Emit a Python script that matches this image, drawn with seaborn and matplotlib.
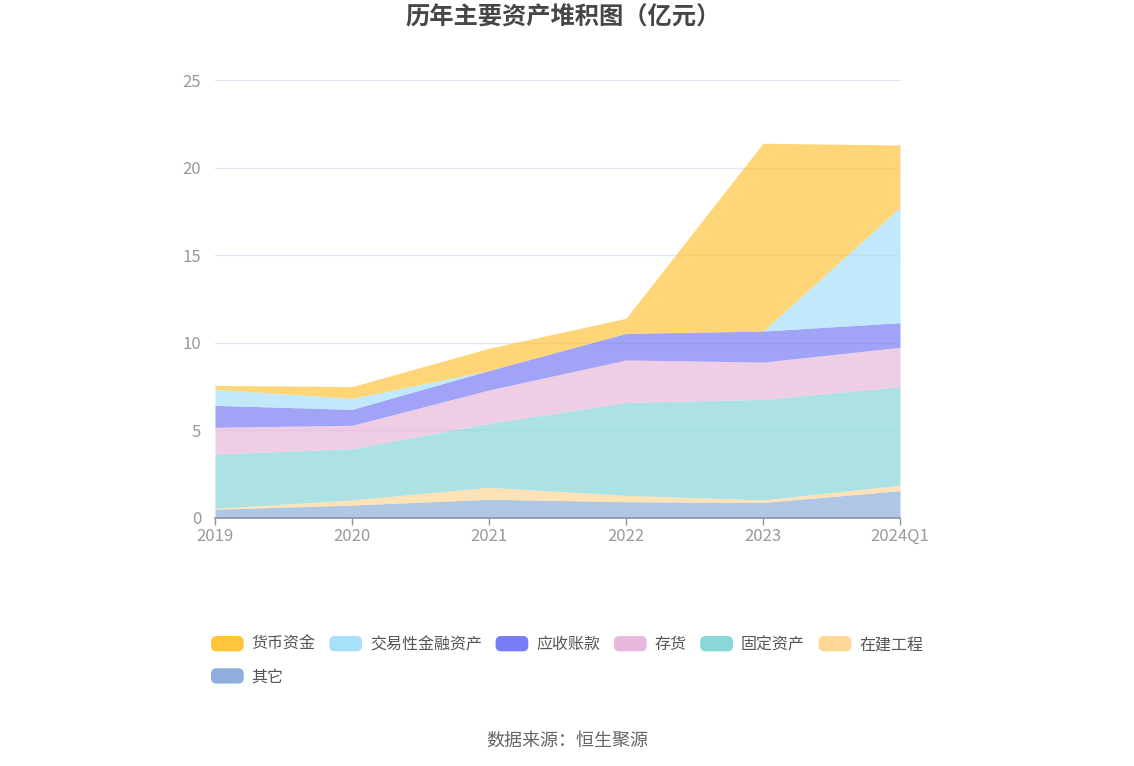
import matplotlib
matplotlib.use("Agg")
import matplotlib.pyplot as plt
from matplotlib.patches import FancyBboxPatch, Patch
from matplotlib.legend_handler import HandlerPatch
import seaborn as sns
import numpy as np

# ---- data (亿元) ----
periods = ["2019", "2020", "2021", "2022", "2023", "2024Q1"]
other = [0.50, 0.74, 1.07, 0.93, 0.89, 1.56]            # 其它
construction = [0.05, 0.29, 0.68, 0.36, 0.14, 0.31]     # 在建工程
fixed_assets = [3.10, 2.93, 3.65, 5.31, 5.74, 5.63]     # 固定资产
inventory = [1.53, 1.33, 1.91, 2.42, 2.13, 2.24]        # 存货
receivables = [1.25, 0.91, 1.11, 1.52, 1.77, 1.41]      # 应收账款
trading_assets = [0.91, 0.63, 0.0, 0.0, 0.0, 6.58]      # 交易性金融资产
cash = [0.23, 0.67, 1.27, 0.86, 10.72, 3.56]            # 货币资金

series_names = ["其它", "在建工程", "固定资产", "存货", "应收账款", "交易性金融资产", "货币资金"]
series_vals = [other, construction, fixed_assets, inventory, receivables, trading_assets, cash]
series_colors = ["#8FAEDB", "#FFD797", "#89D7D9", "#E8B9DA", "#7A7CF5", "#A8E0FA", "#FFC53D"]
y_ticks = [0, 5, 10, 15, 20, 25]

sns.set_theme(style="white")
plt.rcParams["font.family"] = ["Noto Sans CJK SC", "DejaVu Sans"]

fig = plt.figure(figsize=(11.34, 7.66), dpi=100)
ax = fig.add_axes([215 / 1134, 1 - 518 / 766, (900 - 215) / 1134, (518 - 80) / 766])

x = np.arange(len(periods))
ax.stackplot(x, *series_vals, colors=series_colors, alpha=0.7, linewidth=0)

ax.set_xlim(0, len(periods) - 1)
ax.set_ylim(0, 25)
ax.set_yticks(y_ticks)
ax.set_yticklabels([str(t) for t in y_ticks])
ax.set_xticks(x)
ax.set_xticklabels(periods)
ax.grid(axis="y", color="#E0E6F1", linewidth=1)
ax.set_axisbelow(True)
for s in ["top", "right", "left"]:
    ax.spines[s].set_visible(False)
ax.spines["bottom"].set_color("#8C93A6")
ax.spines["bottom"].set_linewidth(1.2)
ax.tick_params(axis="x", colors="#999999", labelsize=12, length=5, width=1, direction="out", pad=2)
ax.tick_params(axis="x", which="both", color="#8C93A6")
ax.tick_params(axis="y", colors="#999999", labelsize=12, length=0, pad=10)
ax.xaxis.set_ticks_position("bottom")

fig.text(563 / 1134, 1 - 18 / 766, "历年主要资产堆积图（亿元）", ha="center", va="center",
         fontsize=17.5, fontweight="bold", color="#464646")


class RoundHandler(HandlerPatch):
    def create_artists(self, legend, orig_handle, xdescent, ydescent, width, height, fontsize, trans):
        p = FancyBboxPatch((-xdescent, -ydescent), width, height,
                           boxstyle="round,pad=0,rounding_size=4",
                           facecolor=orig_handle.get_facecolor(), edgecolor="none",
                           transform=trans)
        return [p]


# legend order (row-major in reference): 货币资金 交易性金融资产 应收账款 存货 固定资产 在建工程 / 其它
legend_order = [6, 0, 5, 4, 3, 2, 1]  # matplotlib fills columns first
handles = [Patch(facecolor=series_colors[i]) for i in legend_order]
labels = [series_names[i] for i in legend_order]
leg = fig.legend(handles, labels, loc="upper left", bbox_to_anchor=(211 / 1134, 1 - 636 / 766),
                 ncol=6, frameon=False, fontsize=11.5, handlelength=2.05, handleheight=1.1,
                 handletextpad=0.5, columnspacing=0.85, labelspacing=0.95, borderpad=0,
                 borderaxespad=0, handler_map={Patch: RoundHandler()})
for t in leg.get_texts():
    t.set_color("#555555")

fig.text(567 / 1134, 1 - 741 / 766, "数据来源：恒生聚源", ha="center", va="center",
         fontsize=13, color="#666666")

fig.savefig("out.png", dpi=100)
